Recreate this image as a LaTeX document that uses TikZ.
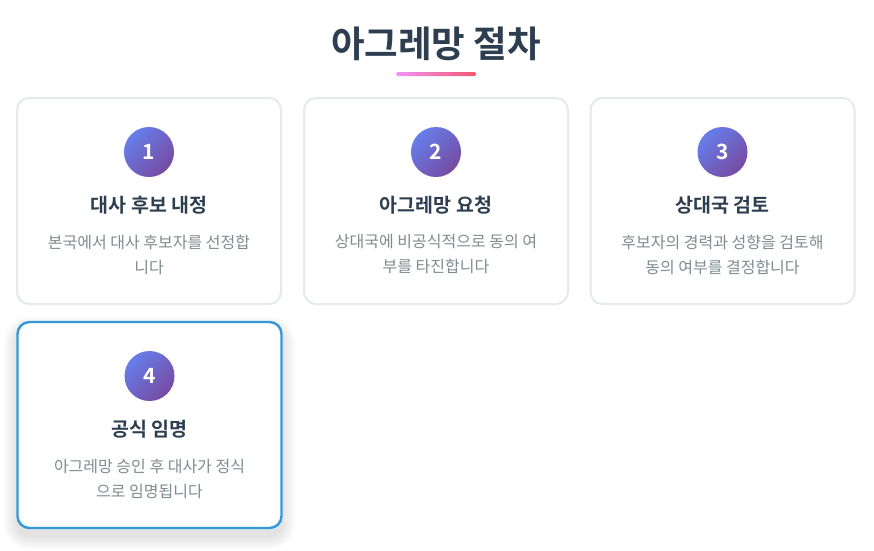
\documentclass[tikz,border=0pt]{standalone}
\usepackage{fontspec}
\setmainfont{Noto Sans CJK KR}
\newfontfamily\krb{Noto Sans CJK KR Bold}
\definecolor{dark}{HTML}{2C3E50}
\definecolor{gray}{HTML}{7F8C8D}
\definecolor{cardline}{HTML}{E6EAEC}
\definecolor{blueline}{HTML}{3498DB}
\definecolor{gA}{HTML}{667EEA}
\definecolor{gB}{HTML}{764BA2}
\definecolor{pA}{HTML}{F093FB}
\definecolor{pB}{HTML}{F5576C}
\tikzset{
  card/.style={draw=cardline, line width=2pt, rounded corners=12pt, fill=white, minimum width=264pt, minimum height=206pt},
  activecard/.style={card, draw=blueline, line width=2.4pt},
  num/.style={circle, minimum size=50pt, inner sep=0pt, top color=gA, bottom color=gB, shading angle=45, text=white, font=\krb\fontsize{21}{24}\selectfont},
  ctitle/.style={text=dark, font=\krb\fontsize{19.5}{22}\selectfont},
  cdesc/.style={text=gray, align=center, font=\fontsize{16}{25}\selectfont},
}
\begin{document}
\begin{tikzpicture}[x=1pt,y=-1pt]
\useasboundingbox[fill=white] (0,0) rectangle (874,550);
\node[text=dark, font=\krb\fontsize{36.5}{40}\selectfont] (title) at (436,44) {아그레망 절차};
\shade[left color=pA, right color=pB, rounded corners=1.5pt] (396,72) rectangle (476,76);
% cards
\node[card] (c1) at (149,201) {};
\node[card] (c2) at (436,201) {};
\node[card] (c3) at (722.5,201) {};
% soft shadow of the active card
\foreach \i in {1,...,14}{
  \fill[black, opacity=0.008, rounded corners=12pt+\i pt]
    (17.5-\i,330-\i) rectangle (281.5+\i,536+\i);
}
\node[activecard] (c4) at (149.5,425) {};
% contents
\node[num] (n1) at (149,152) {1};
\node[ctitle] (t1) at (149,205) {대사 후보 내정};
\node[cdesc] (d1) at (149,254.5) {본국에서 대사 후보자를 선정합\\니다};
\node[num] (n2) at (436,152) {2};
\node[ctitle] (t2) at (436,205) {아그레망 요청};
\node[cdesc] (d2) at (436,254.5) {상대국에 비공식적으로 동의 여\\부를 타진합니다};
\node[num] (n3) at (722.5,152) {3};
\node[ctitle] (t3) at (722.5,205) {상대국 검토};
\node[cdesc] (d3) at (722.5,254.5) {후보자의 경력과 성향을 검토해\\동의 여부를 결정합니다};
\node[num] (n4) at (149.5,376) {4};
\node[ctitle] (t4) at (149.5,429) {공식 임명};
\node[cdesc] (d4) at (149.5,478.5) {아그레망 승인 후 대사가 정식\\으로 임명됩니다};
\end{tikzpicture}
\end{document}
